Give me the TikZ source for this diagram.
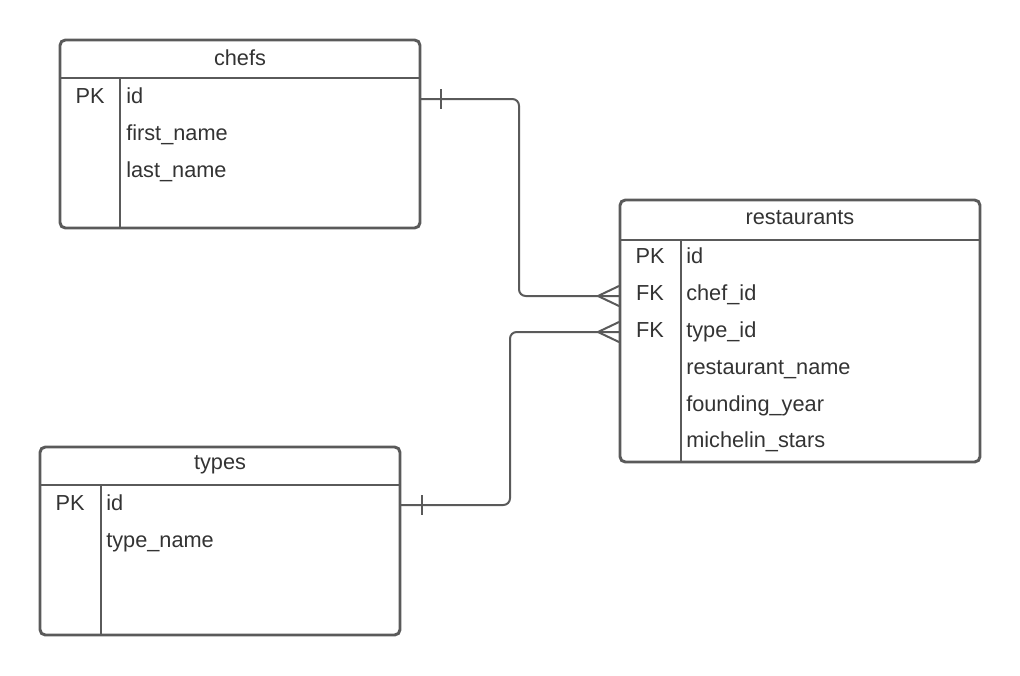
\documentclass[tikz,border=0pt]{standalone}
\usepackage{fontspec}
\setmainfont{Liberation Sans}
\definecolor{linegray}{HTML}{5A5A5A}
\definecolor{textgray}{HTML}{333333}
\tikzset{
  tblbox/.style={draw=linegray, line width=2.2pt, rounded corners=4pt},
  tblline/.style={draw=linegray, line width=2pt},
  relline/.style={draw=linegray, line width=1.5pt, rounded corners=5pt},
  title/.style={text=textgray, font=\fontsize{16.3}{19}\selectfont},
  field/.style={text=textgray, font=\fontsize{16.3}{19}\selectfont, anchor=west, inner sep=0pt,
    text height=1.4ex, text depth=0pt, yshift=-2.2pt},
  key/.style={text=textgray, font=\fontsize{16.3}{19}\selectfont, inner sep=0pt,
    text height=1.4ex, text depth=0pt, yshift=-2.2pt}
}
\begin{document}
\begin{tikzpicture}[x=0.75pt, y=-0.75pt]
  \useasboundingbox (0,0) rectangle (1020,675);
  % chefs
  \draw[tblbox] (60,40) rectangle (420,228);
  \draw[tblline] (60,78) -- (420,78);
  \draw[tblline] (120,78) -- (120,228);
  \node[title] (chefs) at (240,58) {chefs};
  \node[key] (chefs-pk) at (90,96) {PK};
  \node[field] (chefs-id) at (126,96) {id};
  \node[field] (chefs-first) at (126,133) {first\_name};
  \node[field] (chefs-last) at (126,170) {last\_name};
  % restaurants
  \draw[tblbox] (620,200) rectangle (980,462);
  \draw[tblline] (620,240) -- (980,240);
  \draw[tblline] (681,240) -- (681,462);
  \node[title] (rest) at (800,218) {restaurants};
  \node[key] (rest-pk) at (650,256) {PK};
  \node[key] (rest-fk1) at (650,293) {FK};
  \node[key] (rest-fk2) at (650,330) {FK};
  \node[field] (rest-id) at (686,256) {id};
  \node[field] (rest-chef) at (686,293) {chef\_id};
  \node[field] (rest-type) at (686,330) {type\_id};
  \node[field] (rest-name) at (686,367) {restaurant\_name};
  \node[field] (rest-year) at (686,404) {founding\_year};
  \node[field] (rest-stars) at (686,440) {michelin\_stars};
  % types
  \draw[tblbox] (40,447) rectangle (400,635);
  \draw[tblline] (40,485) -- (400,485);
  \draw[tblline] (101,485) -- (101,635);
  \node[title] (types) at (220,465) {types};
  \node[key] (types-pk) at (70,503) {PK};
  \node[field] (types-id) at (106,503) {id};
  \node[field] (types-name) at (106,540) {type\_name};
  % relations
  \coordinate (c-chefs) at (421,99);
  \coordinate (c-rest1) at (619,296);
  \coordinate (c-types) at (401,505);
  \coordinate (c-rest2) at (619,332);
  \draw[relline] (c-chefs) -- (519,99) -- (519,296) -- (c-rest1);
  \draw[relline] (c-types) -- (510,505) -- (510,332) -- (c-rest2);
  % one ends
  \draw[linegray, line width=1.5pt] (441,89) -- (441,109);
  \draw[linegray, line width=1.5pt] (422,495) -- (422,515);
  % many ends
  \draw[linegray, line width=1.5pt] (619,286) -- (598,296) -- (619,306);
  \draw[linegray, line width=1.5pt] (619,322) -- (598,332) -- (619,342);
\end{tikzpicture}
\end{document}
